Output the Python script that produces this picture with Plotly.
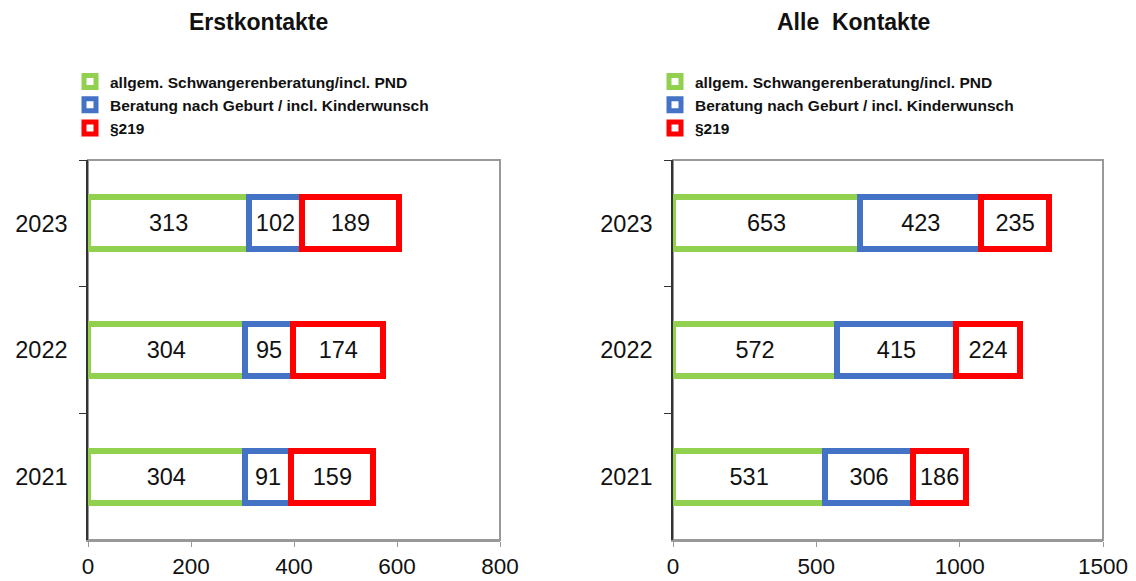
import plotly.graph_objects as go

years = ["2021", "2022", "2023"]
series_names = ["allgem. Schwangerenberatung/incl. PND",
                "Beratung nach Geburt / incl. Kinderwunsch",
                "§219"]
erst_allgem = [304, 304, 313]
erst_geburt = [91, 95, 102]
erst_219 = [159, 174, 189]
alle_allgem = [531, 572, 653]
alle_geburt = [306, 415, 423]
alle_219 = [186, 224, 235]
titles = ["Erstkontakte", "Alle  Kontakte"]

colors = ["#92D050", "#4472C4", "#FF0000"]
W, H = 1136, 581
FONT = "Liberation Sans, Arial, sans-serif"

fig = go.Figure()

panels = [
    (1, [erst_allgem, erst_geburt, erst_219]),
    (2, [alle_allgem, alle_geburt, alle_219]),
]
for idx, data in panels:
    for name, vals, col in zip(series_names, data, colors):
        fig.add_trace(go.Bar(
            y=years, x=vals, orientation="h", name=name,
            marker=dict(color="white", line=dict(color=col, width=6)),
            width=0.41,
            text=[str(v) for v in vals], textposition="inside",
            insidetextanchor="middle", textangle=0, constraintext="none",
            textfont=dict(family=FONT, size=23.5, color="#111111"),
            xaxis="x" if idx == 1 else "x2",
            yaxis="y" if idx == 1 else "y2",
            legend="legend" if idx == 1 else "legend2",
            legendgroup=f"{idx}-{name}",
            hoverinfo="x+name",
        ))

px = lambda v: v / W
py = lambda v: 1 - v / H

ydom = [py(540), py(160)]
xdom1 = [px(88), px(500)]
xdom2 = [px(673), px(1103)]

xcommon = dict(showgrid=False, zeroline=False, ticks="outside", ticklen=5,
               tickcolor="#999999", showline=True, linecolor="#999999", linewidth=2,
               automargin=False,
               tickfont=dict(family=FONT, size=22.5, color="#111111"), fixedrange=True)
ycommon = dict(type="category", showgrid=False, zeroline=False, ticks="outside",
               tickson="boundaries", ticklen=7, tickcolor="#333333",
               showline=True, linecolor="#333333", linewidth=1.5,
               automargin=False, ticklabelstandoff=14,
               tickfont=dict(family=FONT, size=23.5, color="#111111"),
               categoryorder="array", categoryarray=years, range=[-0.5, 2.5])

legcommon = dict(orientation="v", traceorder="normal", xanchor="left", yanchor="top",
                 font=dict(family=FONT, size=15.5, color="#111111", weight="bold"),
                 bgcolor="rgba(0,0,0,0)", tracegroupgap=3, itemclick=False)

fig.update_layout(
    width=W, height=H,
    margin=dict(l=0, r=0, t=0, b=0),
    paper_bgcolor="white", plot_bgcolor="white",
    barmode="stack", showlegend=True,
    xaxis=dict(domain=xdom1, anchor="y", range=[0, 800], dtick=200, **xcommon),
    yaxis=dict(domain=ydom, anchor="x", **ycommon),
    xaxis2=dict(domain=xdom2, anchor="y2", range=[0, 1500], dtick=500, **xcommon),
    yaxis2=dict(domain=ydom, anchor="x2", **ycommon),
    legend=dict(x=px(70), y=py(65), **legcommon),
    legend2=dict(x=px(655), y=py(65), **legcommon),
    shapes=[
        dict(type="rect", xref="paper", yref="paper", x0=xdom1[0], x1=xdom1[1],
             y0=ydom[0], y1=ydom[1], line=dict(color="#999999", width=2), layer="below"),
        dict(type="rect", xref="paper", yref="paper", x0=xdom2[0], x1=xdom2[1],
             y0=ydom[0], y1=ydom[1], line=dict(color="#999999", width=2), layer="below"),
    ],
    annotations=[
        dict(text=f"<b>{titles[0]}</b>", x=px(258), y=py(22), xref="paper", yref="paper",
             showarrow=False, font=dict(family=FONT, size=23, color="#111111"),
             xanchor="center", yanchor="middle"),
        dict(text=f"<b>{titles[1]}</b>", x=px(853), y=py(22), xref="paper", yref="paper",
             showarrow=False, font=dict(family=FONT, size=23, color="#111111"),
             xanchor="center", yanchor="middle"),
    ],
)

fig.write_html("out.html")
